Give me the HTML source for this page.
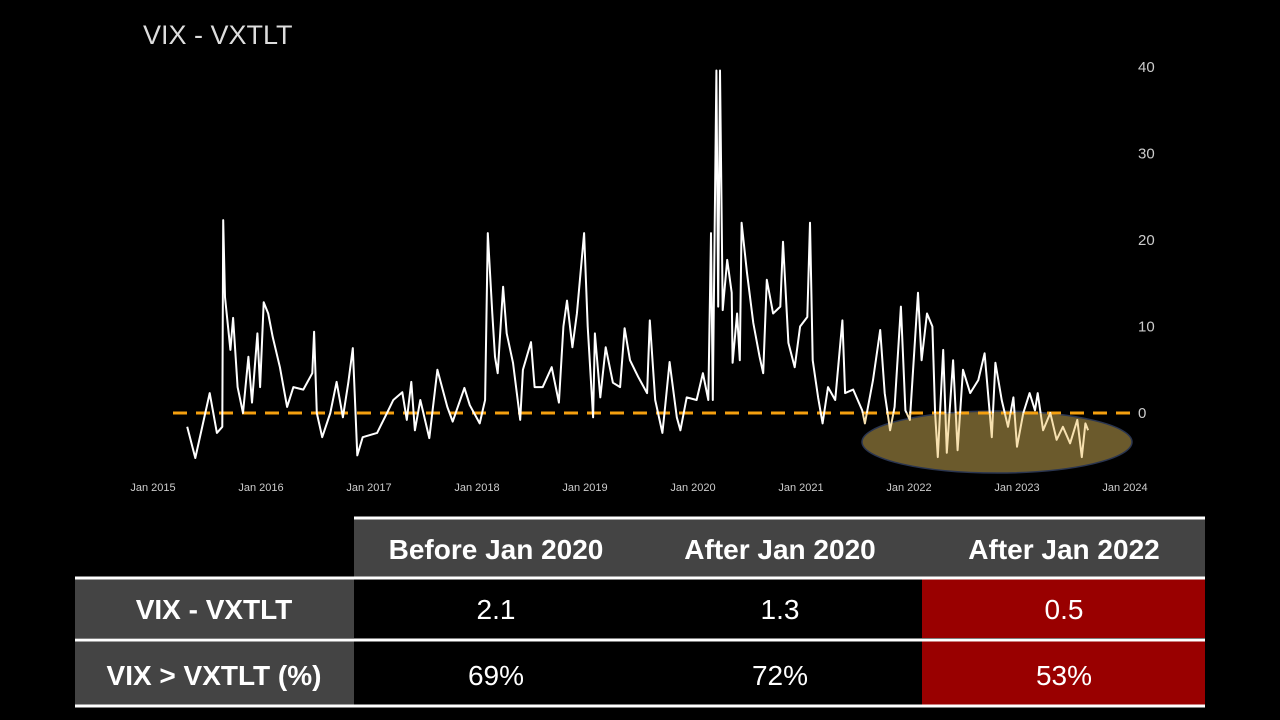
<!DOCTYPE html>
<html><head><meta charset="utf-8"><style>
body{margin:0;background:#000;width:1280px;height:720px;overflow:hidden;font-family:"Liberation Sans",sans-serif}
svg{position:absolute;left:0;top:0}
</style></head><body>
<svg width="1280" height="720">
<text x="143" y="44" fill="#ddd" font-size="27">VIX - VXTLT</text>
<g id="yt"></g><g id="xt"></g>
<ellipse cx="997" cy="442" rx="135" ry="31" fill="#6b5a2c" stroke="#2a3550" stroke-width="1.5"/>
<line id="zero" stroke="#f5a00f" stroke-width="3" stroke-dasharray="14,9"/>
<defs><clipPath id="below"><rect x="860" y="413" width="300" height="80"/></clipPath>
<clipPath id="above"><rect x="0" y="0" width="1280" height="413"/><rect x="0" y="413" width="860" height="100"/></clipPath></defs>
<path id="line1" fill="none" stroke="#fff" stroke-width="2" stroke-linejoin="round" clip-path="url(#above)"/>
<path id="line2" fill="none" stroke="#f7e1b0" stroke-width="2" stroke-linejoin="round" clip-path="url(#below)"/>
</svg>
<svg width="1280" height="720">
<rect x="354" y="519" width="851" height="58" fill="#444"/>
<rect x="75" y="579" width="279" height="59" fill="#444"/>
<rect x="75" y="641" width="279" height="64" fill="#444"/>
<rect x="922" y="579" width="283" height="59" fill="#990000"/>
<rect x="922" y="641" width="283" height="64" fill="#990000"/>
<line x1="354" x2="1205" y1="518" y2="518" stroke="#fff" stroke-width="3"/>
<line x1="75" x2="1205" y1="578" y2="578" stroke="#fff" stroke-width="3"/>
<line x1="75" x2="1205" y1="640" y2="640" stroke="#fff" stroke-width="3"/>
<line x1="75" x2="1205" y1="706" y2="706" stroke="#fff" stroke-width="3"/>
<g fill="#fff" font-size="28" text-anchor="middle">
<text x="496" y="559" font-weight="bold">Before Jan 2020</text>
<text x="780" y="559" font-weight="bold">After Jan 2020</text>
<text x="1064" y="559" font-weight="bold">After Jan 2022</text>
<text x="214" y="619" font-weight="bold">VIX - VXTLT</text>
<text x="214" y="685" font-weight="bold">VIX &gt; VXTLT (%)</text>
<text x="496" y="619">2.1</text><text x="780" y="619">1.3</text><text x="1064" y="619">0.5</text>
<text x="496" y="685">69%</text><text x="780" y="685">72%</text><text x="1064" y="685">53%</text>
</g>
</svg>
<script>
// months since Jan 2015
const months=[3.8,4.7,6.3,7.1,7.7,7.8,8.0,8.6,8.9,9.4,10.0,10.6,11.0,11.6,11.9,12.3,12.8,13.3,14.1,14.9,15.6,16.7,17.7,17.9,18.2,18.8,19.7,20.4,21.1,21.7,22.2,22.7,23.3,24.9,26.0,26.7,27.7,28.2,28.7,29.1,29.7,30.7,31.6,32.7,33.3,34.6,35.2,36.3,36.9,37.2,37.7,38.0,38.3,38.9,39.3,40.0,40.8,41.1,42.0,42.4,43.3,44.3,45.1,45.6,46.0,46.6,47.1,47.9,48.3,48.9,49.1,49.7,50.3,51.1,51.9,52.4,53.0,53.9,54.9,55.2,55.8,56.6,56.9,57.4,58.2,58.6,59.3,60.4,61.1,61.7,62.0,62.2,62.6,62.8,63.0,63.3,63.8,64.3,64.4,64.9,65.2,65.4,66.0,66.7,67.4,67.8,68.2,68.9,69.7,70.0,70.6,71.3,71.9,72.7,73.0,73.3,73.9,74.4,75.0,75.8,76.6,76.9,77.8,78.8,79.1,80.0,80.8,81.3,81.9,82.4,83.1,83.6,84.1,85.0,85.4,86.0,86.6,86.9,87.2,87.8,88.2,88.9,89.4,90.0,90.8,91.7,92.4,93.2,93.6,94.3,95.0,95.6,96.0,96.7,97.4,98.0,98.3,98.9,99.7,100.4,101.1,101.9,102.7,103.2,103.6,103.9];
const values=[-1.6,-5.2,2.3,-2.3,-1.6,22.3,13.4,7.3,11,3,0,6.5,1.2,9.2,3,12.8,11.5,8.8,5.3,0.7,3,2.7,4.6,9.4,0,-2.8,0,3.6,-0.5,3.5,7.5,-4.9,-2.8,-2.3,0,1.5,2.4,-0.8,3.6,-2,1.5,-2.9,5,0.7,-1,2.9,0.9,-1.2,1.5,20.8,11.5,6.5,4.6,14.6,9.2,5.8,-0.8,5,8.2,3,3,5.3,1.2,10,13,7.6,11.5,20.8,10,-0.5,9.2,1.8,7.6,3.5,3,9.8,6.1,4.2,2.3,10.7,1.5,-2.3,0.7,5.9,-0.5,-2,1.8,1.5,4.6,1.5,20.8,1.5,39.6,12.3,39.6,11.9,17.7,13.9,5.8,11.5,6.1,22,16.2,10.4,6.5,4.6,15.4,11.5,12.3,19.8,8.1,5.3,10,11.1,22,6.1,1.8,-1.2,3,1.5,10.7,2.3,2.7,0.3,-1.2,3.8,9.6,2.3,-2,0.7,12.3,0.3,-0.8,13.9,6.1,11.5,10,0,-5.1,7.3,-4.6,6.1,-4.3,5,2.3,3.8,6.9,-2.8,5.8,1.5,-1.6,1.8,-3.9,0,2.3,0.3,2.3,-2,0,-3.1,-1.6,-3.5,-0.8,-5.1,-1.2,-2];
const yTicks=[0,10,20,30,40];
const xTicks=["Jan 2015","Jan 2016","Jan 2017","Jan 2018","Jan 2019","Jan 2020","Jan 2021","Jan 2022","Jan 2023","Jan 2024"];
const X=m=>153+m*9, Y=v=>413-v*8.65;
const NS="http://www.w3.org/2000/svg";
const yt=document.getElementById('yt'), xt=document.getElementById('xt');
yTicks.forEach(v=>{const t=document.createElementNS(NS,'text');


t.setAttribute('x',1138);t.setAttribute('y',Y(v)+5);t.setAttribute('fill','#ccc');t.setAttribute('font-size','15');t.textContent=v;yt.appendChild(t);});
xTicks.forEach((s,i)=>{const t=document.createElementNS(NS,'text');


t.setAttribute('x',X(i*12));t.setAttribute('y',491);t.setAttribute('fill','#ccc');t.setAttribute('font-size','11');t.setAttribute('text-anchor','middle');t.textContent=s;xt.appendChild(t);});
const z=document.getElementById('zero');z.setAttribute('x1',173);z.setAttribute('x2',1130);z.setAttribute('y1',Y(0));z.setAttribute('y2',Y(0));
const d=months.map((m,i)=>(i?'L':'M')+X(m).toFixed(1)+','+Y(values[i]).toFixed(1)).join('');
document.getElementById('line1').setAttribute('d',d);
document.getElementById('line2').setAttribute('d',d);
</script>
</body></html>
